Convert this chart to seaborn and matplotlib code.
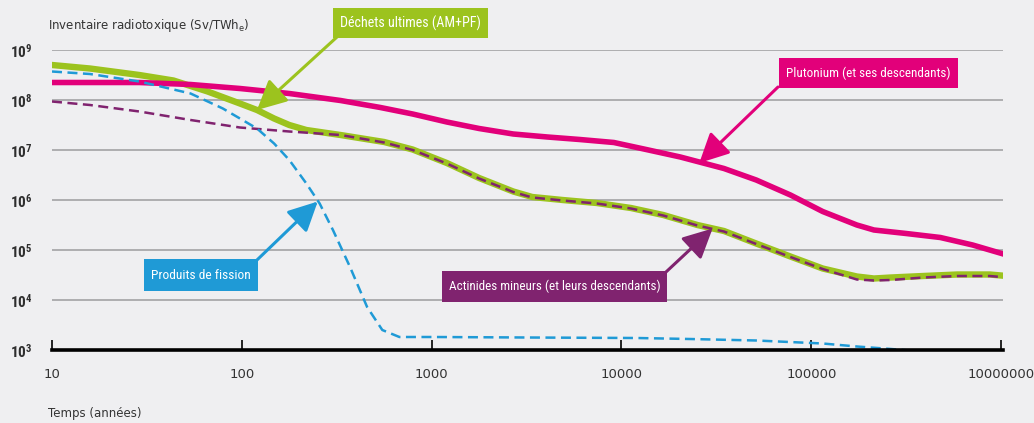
import numpy as np
import pandas as pd
import seaborn as sns
import matplotlib.pyplot as plt

# values, stored as log10 exponents (time in years, inventory in Sv/TWhe)
pu_log_t = [1.0, 1.46, 1.73, 1.99, 2.25, 2.52, 2.73, 2.90, 3.08, 3.25, 3.43, 3.61, 3.78, 3.96, 4.13,
            4.31, 4.54, 4.71, 4.89, 5.06, 5.24, 5.33, 5.50, 5.68, 5.85, 6.03]
pu_log_v = [8.35, 8.35, 8.31, 8.23, 8.13, 7.99, 7.85, 7.72, 7.56, 7.43, 7.32, 7.26, 7.21, 7.15, 7.01,
            6.86, 6.63, 6.40, 6.10, 5.77, 5.50, 5.40, 5.33, 5.25, 5.10, 4.90]

dech_log_t = [1.0, 1.20, 1.46, 1.64, 1.82, 1.99, 2.08, 2.17, 2.25, 2.34, 2.52, 2.75, 2.90, 3.08, 3.25,
              3.43, 3.53, 3.69, 3.87, 4.05, 4.22, 4.40, 4.54, 4.71, 4.89, 5.06, 5.24, 5.33, 5.42, 5.59,
              5.77, 5.94, 6.03]
dech_log_v = [8.70, 8.63, 8.50, 8.39, 8.17, 7.93, 7.80, 7.63, 7.50, 7.40, 7.30, 7.16, 7.01, 6.74, 6.44,
              6.17, 6.06, 6.00, 5.94, 5.84, 5.70, 5.50, 5.38, 5.13, 4.87, 4.63, 4.47, 4.43, 4.45, 4.48,
              4.51, 4.51, 4.48]

am_log_t = [1.0, 1.20, 1.46, 1.73, 1.99, 2.25, 2.52, 2.75, 2.90, 3.08, 3.25, 3.43, 3.53, 3.69, 3.87,
            4.05, 4.22, 4.40, 4.54, 4.71, 4.89, 5.06, 5.24, 5.33, 5.42, 5.59, 5.77, 5.94, 6.03]
am_log_v = [7.97, 7.90, 7.77, 7.60, 7.45, 7.37, 7.30, 7.15, 7.00, 6.73, 6.43, 6.16, 6.05, 5.99, 5.93,
            5.83, 5.69, 5.49, 5.37, 5.12, 4.86, 4.62, 4.41, 4.39, 4.40, 4.45, 4.48, 4.48, 4.45]

pf_log_t = [1.0, 1.20, 1.46, 1.73, 1.90, 2.08, 2.17, 2.25, 2.34, 2.41, 2.48, 2.57, 2.66, 2.74, 2.83,
            3.01, 3.50, 4.08, 4.36, 4.71, 5.06, 5.24, 5.42, 5.52]
pf_log_v = [8.57, 8.52, 8.37, 8.13, 7.83, 7.43, 7.13, 6.80, 6.33, 5.93, 5.40, 4.66, 3.86, 3.40, 3.26,
            3.26, 3.25, 3.24, 3.22, 3.19, 3.13, 3.07, 3.02, 2.99]

x_ticks = [10, 100, 1000, 10000, 100000, 1000000]
x_tick_labels = ["10", "100", "1000", "10000", "100000", "10000000"]
y_ticks = [1e3, 1e4, 1e5, 1e6, 1e7, 1e8, 1e9]
y_tick_labels = ["$10^{3}$", "$10^{4}$", "$10^{5}$", "$10^{6}$", "$10^{7}$", "$10^{8}$", "$10^{9}$"]

BG = "#efeff1"
C_PU = "#e2007a"
C_DE = "#9cc31e"
C_AM = "#80236f"
C_PF = "#1f9ad6"
NARROW = ["Roboto Condensed", "Liberation Sans Narrow", "DejaVu Sans Condensed", "Roboto", "DejaVu Sans"]

sns.set_style("white", {"axes.facecolor": BG, "figure.facecolor": BG})
plt.rcParams["font.family"] = ["DejaVu Sans"]
plt.rcParams["mathtext.default"] = "regular"

W, H = 1034, 423
fig = plt.figure(figsize=(W / 100, H / 100), dpi=100)
ax = fig.add_axes([52 / W, 1 - 350 / H, (1003 - 52) / W, (350 - 50) / H])


def frame(lt, lv):
    return pd.DataFrame({"t": np.power(10.0, lt), "v": np.power(10.0, lv)})


sns.lineplot(data=frame(dech_log_t, dech_log_v), x="t", y="v", ax=ax, color=C_DE, lw=4.6, sort=False)
sns.lineplot(data=frame(pu_log_t, pu_log_v), x="t", y="v", ax=ax, color=C_PU, lw=4.0, sort=False)
sns.lineplot(data=frame(am_log_t, am_log_v), x="t", y="v", ax=ax, color=C_AM, lw=1.8, sort=False)
ax.lines[-1].set_dashes([4, 2.2])
sns.lineplot(data=frame(pf_log_t, pf_log_v), x="t", y="v", ax=ax, color=C_PF, lw=1.8, sort=False)
ax.lines[-1].set_dashes([4, 2.2])
for ln in ax.lines:
    ln.set_solid_capstyle("round")
    ln.set_solid_joinstyle("round")
    ln.set_dash_joinstyle("round")

ax.set_xscale("log")
ax.set_yscale("log")
ax.set_xlim(10, 10 ** 6.01)
ax.set_ylim(1e3, 1e9)
ax.set_xlabel("")
ax.set_ylabel("")

ax.set_xticks(x_ticks)
ax.set_xticklabels(x_tick_labels)
ax.xaxis.set_minor_locator(plt.NullLocator())
ax.yaxis.set_minor_locator(plt.NullLocator())
ax.tick_params(axis="x", bottom=True, direction="in", length=7, width=1.2, color="black",
               pad=13, labelsize=9.5, labelcolor="#333333")
ax.set_yticks(y_ticks)
ax.set_yticklabels(y_tick_labels)
ax.tick_params(axis="y", left=False, length=0, pad=14, labelsize=11, labelcolor="#2e2e2e")
for lab in ax.get_yticklabels():
    lab.set_family(NARROW)
    lab.set_fontweight("bold")

ax.yaxis.grid(True, color="#a9a9ab", lw=1.3)
ax.set_axisbelow(True)
for s in ["top", "right", "left"]:
    ax.spines[s].set_visible(False)
ax.spines["bottom"].set_color("black")
ax.spines["bottom"].set_linewidth(2.6)
ax.spines["bottom"].set_zorder(5)

fig.text(48 / W, 1 - 25 / H, "Inventaire radiotoxique (Sv/TWh$_{e}$)", fontsize=8.5,
         color="#333333", va="center", ha="left")
fig.text(48 / W, 1 - 413 / H, "Temps (années)", fontsize=8.5,
         color="#333333", va="center", ha="left")

box_texts = []


def label_box(text, color, x0, y0, x1, y1, start, tip):
    # box given in image pixels, arrow from start (image px) to tip (data log coords)
    rect = plt.Rectangle((x0 / W, 1 - y1 / H), (x1 - x0) / W, (y1 - y0) / H,
                         transform=fig.transFigure, facecolor=color, edgecolor="none", zorder=10)
    fig.patches.append(rect)
    t = fig.text((x0 + x1) / 2 / W, 1 - (y0 + y1) / 2 / H, text, color="white", fontsize=11.5,
                 ha="center", va="center", zorder=11, family=NARROW, fontstretch="condensed")
    box_texts.append((t, x1 - x0 - 14))
    ax.annotate("", xy=(10 ** tip[0], 10 ** tip[1]), xycoords="data",
                xytext=(start[0] / W, 1 - start[1] / H), textcoords="figure fraction",
                arrowprops=dict(arrowstyle="-|>,head_length=0.9,head_width=0.45", color=color,
                                lw=2.2, mutation_scale=20, shrinkA=0, shrinkB=0),
                annotation_clip=False, zorder=9)


label_box("Déchets ultimes (AM+PF)", C_DE, 333, 8, 488, 38, (337, 37), (2.08, 7.80))
label_box("Plutonium (et ses descendants)", C_PU, 779, 58, 958, 88, (778, 87), (4.41, 6.74))
label_box("Produits de fission", C_PF, 144, 259, 258, 291, (257, 260), (2.40, 5.97))
label_box("Actinides mineurs (et leurs descendants)", C_AM, 442, 271, 667, 302, (666, 272), (4.48, 5.43))

# shrink box labels that would overflow their box
fig.canvas.draw()
renderer = fig.canvas.get_renderer()
for t, room in box_texts:
    w = t.get_window_extent(renderer).width
    if w > room:
        t.set_fontsize(t.get_fontsize() * room / w)

fig.savefig("out.png", dpi=100, facecolor=BG)
